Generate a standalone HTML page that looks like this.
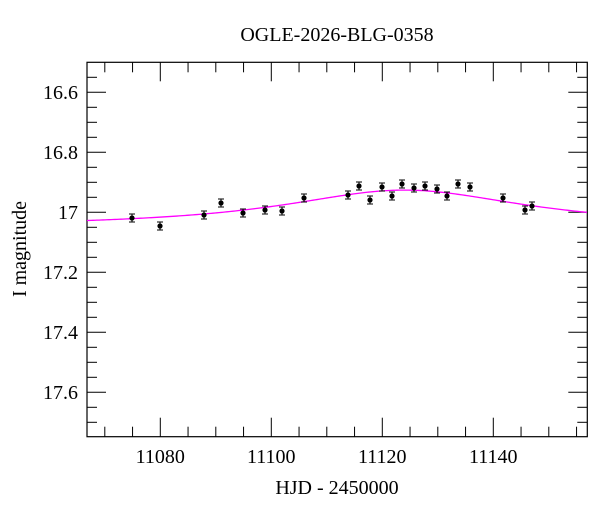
<!DOCTYPE html>
<html><head><meta charset="utf-8"><style>
html,body{margin:0;padding:0;background:#fff;}
svg{display:block;font-family:"Liberation Serif",serif;}
</style></head><body>
<svg id="sv" width="600" height="512" viewBox="0 0 600 512" xmlns="http://www.w3.org/2000/svg">
<rect width="600" height="512" fill="#fff"/>
<text x="337" y="41" font-size="20" text-anchor="middle">OGLE-2026-BLG-0358</text>
<g id="ticks" stroke="#000" stroke-width="1"></g>
<rect x="87" y="62.3" width="500.3" height="374.4" fill="none" stroke="#000" stroke-width="1.2"/>
<g font-size="20" text-anchor="end">
<text x="78" y="99">16.6</text>
<text x="78" y="159">16.8</text>
<text x="78" y="219">17</text>
<text x="78" y="279">17.2</text>
<text x="78" y="339">17.4</text>
<text x="78" y="399">17.6</text>
</g>
<g font-size="20" text-anchor="middle">
<text x="160.3" y="463">11080</text>
<text x="271.3" y="463">11100</text>
<text x="382.3" y="463">11120</text>
<text x="493.3" y="463">11140</text>
</g>
<text x="337" y="494" font-size="20" text-anchor="middle">HJD - 2450000</text>
<text transform="translate(26,249) rotate(-90)" font-size="20" text-anchor="middle">I magnitude</text>
<path id="curve" fill="none" stroke="#ff00ff" stroke-width="1.3"/>
<g id="pts"></g>
<script>
var NS='http://www.w3.org/2000/svg';
function el(parent,name,attrs){var e=document.createElementNS(NS,name);for(var k in attrs)e.setAttribute(k,attrs[k]);parent.appendChild(e);return e;}
var X=function(t){return 160.3+(t-11080)*5.55;};
var Y=function(m){return 212.3+(m-17)*300;};
var g=document.getElementById('ticks');
for(var t=11070;t<=11155;t+=5){var x=X(t),L=(t%20==0)?19:10;
el(g,'line',{x1:x,y1:436.7,x2:x,y2:436.7-L});el(g,'line',{x1:x,y1:62.3,x2:x,y2:62.3+L});}
for(var i=0;i<=24;i++){var m=16.55+i*0.05,y=Y(m);if(y<63||y>436)continue;var L=(i%4==1)?19:10;
el(g,'line',{x1:87,y1:y,x2:87+L,y2:y});el(g,'line',{x1:587.3,y1:y,x2:587.3-L,y2:y});}
var d='';for(var x=87;x<=587.3;x+=2){var t=(x-160.3)/5.55+11080;var m=17.05-0.124/(1+Math.pow((t-11124)/27,2));d+=(x==87?'M':'L')+x+','+Y(m).toFixed(2);}
document.getElementById('curve').setAttribute('d',d);
var P=[[132,218],[160,226],[204,215],[221,203],[243,213],[265,210],[282,211],[304,198],[348,195],[359,186],[370,200],[382,187],[392,196],[402,184],[414,188],[425,186],[437,189],[447,196],[458,184],[470,187],[503,198],[525,210],[532,206]];
var pg=document.getElementById('pts');
P.forEach(function(p){var e=4;
el(pg,'line',{x1:p[0],y1:p[1]-e,x2:p[0],y2:p[1]+e,stroke:'#000'});
el(pg,'line',{x1:p[0]-3,y1:p[1]-e,x2:p[0]+3,y2:p[1]-e,stroke:'#000'});
el(pg,'line',{x1:p[0]-3,y1:p[1]+e,x2:p[0]+3,y2:p[1]+e,stroke:'#000'});
el(pg,'circle',{cx:p[0],cy:p[1],r:2.6,fill:'#000'});});
</script>
</svg>
</body></html>
